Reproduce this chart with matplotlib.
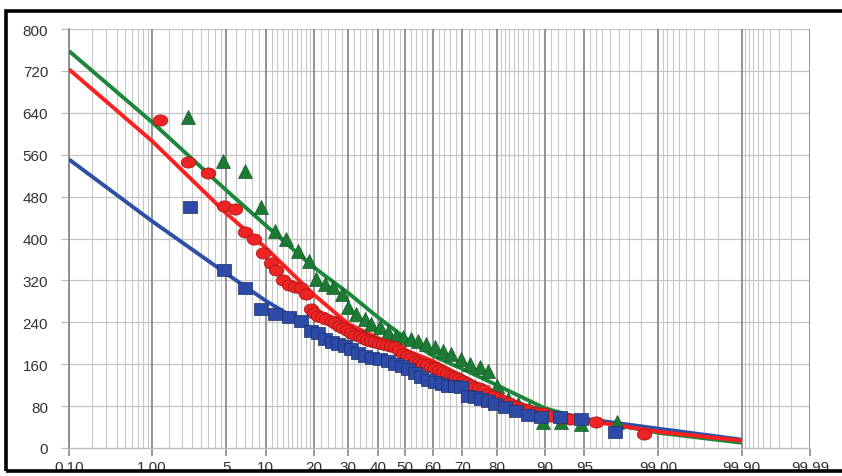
import numpy as np
from statistics import NormalDist
from matplotlib import pyplot as plt
from matplotlib.path import Path
from matplotlib.patches import Rectangle

# ---- data (x = cumulative probability in %, y = value) ----
fit_prob = [0.1, 1, 5, 10, 20, 30, 40, 50, 60, 70, 80, 90, 95, 99, 99.9]
blue_fit = [551, 433, 333, 281, 226, 195, 172, 152, 135, 118, 95, 71, 56, 37, 16]
red_fit = [723, 586, 448, 382, 293, 237, 210, 187, 166, 137, 101, 67, 53, 31, 14]
green_fit = [758, 622, 492, 425, 345, 296, 250, 210, 176, 151, 120, 76, 55, 29, 10]

red_prob = [1.2, 2.3, 3.5, 4.75, 5.9, 7.1, 8.2, 9.5, 10.8, 11.8, 13.0, 14.2, 15.6,
            16.8, 18.0, 19.2, 20.2, 21.2, 22.3, 23.4, 24.9, 26.0, 27.2, 28.5, 29.7,
            31.0, 32.3, 33.7, 35.0, 36.4, 37.8, 39.2, 40.6, 42.0, 43.4, 44.9, 46.3,
            47.8, 49.3, 50.7, 52.2, 53.7, 55.1, 56.6, 58.0, 59.4, 60.8, 62.2, 63.6,
            65.0, 66.3, 67.7, 69.0, 70.3, 71.5, 72.8, 74.0, 75.1, 76.6, 77.7, 79.0,
            80.3, 81.6, 83.0, 84.4, 85.6, 87.0, 88.4, 89.7, 91.0, 92.2, 93.5, 96.0,
            98.6]
red_val = [626, 546, 525, 462, 456, 412, 399, 372, 353, 340, 321, 311, 307,
           305, 294, 265, 258, 252, 250, 246, 242, 238, 233, 229, 225,
           220, 216, 213, 210, 207, 204, 202, 200, 199, 197, 195, 192,
           188, 180, 175, 171, 167, 163, 160, 158, 155, 152, 149, 146,
           142, 138, 135, 131, 128, 124, 120, 117, 114, 110, 104, 99,
           95, 90, 86, 81, 76, 72, 69, 66, 62, 58, 55, 50,
           27]

green_prob = [2.3, 4.66, 7.0, 9.3, 11.6, 13.7, 16.3, 18.7, 20.7, 23.1, 25.4, 27.9,
              30.0, 32.6, 35.7, 37.8, 40.9, 43.8, 46.7, 49.3, 52.2, 54.7, 57.6,
              60.8, 63.6, 66.3, 69.6, 72.4, 75.4, 77.7, 80.1, 82.8, 85.0, 87.3,
              89.7, 92.4, 94.7, 97.4]
green_val = [632, 548, 529, 460, 414, 399, 376, 357, 323, 313, 307, 294,
             269, 256, 246, 237, 231, 221, 214, 212, 208, 204, 198,
             193, 185, 179, 170, 160, 155, 147, 118, 94, 84, 74,
             50, 50, 46, 50]

blue_prob = [2.4, 4.75, 7.1, 9.3, 11.6, 14.2, 17.0, 19.2, 21.2, 23.1, 25.1, 26.9,
             29.1, 31.0, 33.3, 35.7, 38.1, 40.9, 43.8, 46.3, 48.9, 51.1, 53.7,
             55.8, 58.4, 60.8, 63.3, 65.3, 67.7, 69.6, 71.8, 74.0, 75.7, 77.7,
             79.6, 82.0, 84.6, 87.0, 89.4, 92.2, 94.7, 97.3]
blue_val = [460, 340, 305, 265, 256, 250, 242, 223, 219, 208, 202, 198,
            195, 189, 181, 176, 172, 170, 166, 160, 156, 151, 143,
            135, 130, 126, 122, 118, 118, 116, 99, 97, 94, 90,
            84, 78, 71, 63, 59, 59, 55, 31]

major_ticks = [0.1, 1, 5, 10, 20, 30, 40, 50, 60, 70, 80, 90, 95, 99, 99.9, 99.99]
major_labels = ["0.10", "1.00", "5", "10", "20", "30", "40", "50", "60", "70",
                "80", "90", "95", "99.00", "99.90", "99.99"]
minor_ticks = ([0.2, 0.3, 0.4, 0.5, 0.6, 0.7, 0.8, 0.9]
               + [1.5, 2, 2.5, 3, 3.5, 4, 4.5]
               + [6, 7, 8, 9]
               + list(range(11, 20))
               + [22, 24, 26, 28, 32, 34, 36, 38, 42, 44, 46, 48,
                  52, 54, 56, 58, 62, 64, 66, 68, 72, 74, 76, 78]
               + list(range(81, 90))
               + [91, 92, 93, 94]
               + [95.5, 96, 96.5, 97, 97.5, 98, 98.5]
               + [99.1, 99.2, 99.3, 99.4, 99.5, 99.6, 99.7, 99.8]
               + [99.91, 99.92, 99.93, 99.94, 99.95, 99.96, 99.97, 99.98])
y_ticks = list(range(0, 801, 80))

_nd = NormalDist()
_ppf = np.vectorize(_nd.inv_cdf, otypes=[float])
_cdf = np.vectorize(_nd.cdf, otypes=[float])


def prob_fwd(p):
    p = np.clip(np.asarray(p, dtype=float) / 100.0, 1e-7, 1 - 1e-7)
    return _ppf(p)


def prob_inv(z):
    return _cdf(np.asarray(z, dtype=float)) * 100.0


def marker_path(sx, sy, kind):
    base = Path.unit_circle() if kind == "circle" else Path.unit_rectangle()
    verts = base.vertices.copy()
    if kind != "circle":
        verts = verts - 0.5
    return Path(verts * [sx, sy], base.codes)


plt.rcParams['font.family'] = ['Liberation Sans', 'DejaVu Sans']

fig = plt.figure(figsize=(8.42, 4.77), dpi=100)
ax = fig.add_axes([69 / 842, 28 / 477, (810 - 69) / 842, (449 - 30) / 477])
ax.set_xscale('function', functions=(prob_fwd, prob_inv))
ax.set_xlim(0.1, 99.99)
ax.set_ylim(0, 800)

# grid
for p in minor_ticks:
    ax.axvline(p, color='#c8c8c8', lw=0.8, zorder=0)
for p in major_ticks:
    ax.axvline(p, color='#8a8a8a', lw=1.3, zorder=0.5)
for v in y_ticks[1:]:
    ax.axhline(v, color='#c4c4c4', lw=0.9, zorder=0.4)

ellipse = marker_path(1.3, 1.0, "circle")
rect = marker_path(1.2, 1.0, "rect")

ax.plot(fit_prob, green_fit, color='#1b873a', lw=2.8, zorder=3, solid_capstyle='butt')
ax.plot(green_prob, green_val, ls='none', marker='^', ms=10.5, mfc='#1d7a35',
        mec='#145a27', mew=0.5, zorder=4)
ax.plot(fit_prob, blue_fit, color='#2d4fa6', lw=2.8, zorder=3, solid_capstyle='butt')
ax.plot(fit_prob, red_fit, color='#ff1f1f', lw=2.8, zorder=3.5, solid_capstyle='butt')
ax.plot(red_prob, red_val, ls='none', marker=ellipse, ms=10.5, mfc='#ee2424',
        mec='#a01212', mew=0.5, zorder=4.5)
ax.plot(blue_prob, blue_val, ls='none', marker=rect, ms=10, mfc='#2c4aa6',
        mec='#1c3070', mew=0.5, zorder=5)

ax.set_xticks(major_ticks)
ax.set_xticklabels(major_labels)
ax.set_xticks([], minor=True)
ax.set_yticks(y_ticks)
ax.tick_params(axis='x', length=6, width=1.2, color='#8a8a8a', labelsize=11,
               labelcolor='#333333', pad=3)
ax.tick_params(axis='y', length=6, width=0.9, color='#bdbdbd', labelsize=11,
               labelcolor='#333333', pad=9)

for side in ['top', 'right']:
    ax.spines[side].set_visible(False)
ax.spines['left'].set_color('#8a8a8a')
ax.spines['left'].set_linewidth(1.3)
ax.spines['bottom'].set_color('#bdbdbd')
ax.spines['bottom'].set_linewidth(1.0)

# outer black frame (cut off on the right side in the reference)
fig.patches.append(Rectangle((6 / 842, 5 / 477), 1.0, 460 / 477, fill=False,
                             ec='black', lw=2.6, transform=fig.transFigure,
                             figure=fig))

fig.savefig("out.png", dpi=100)
